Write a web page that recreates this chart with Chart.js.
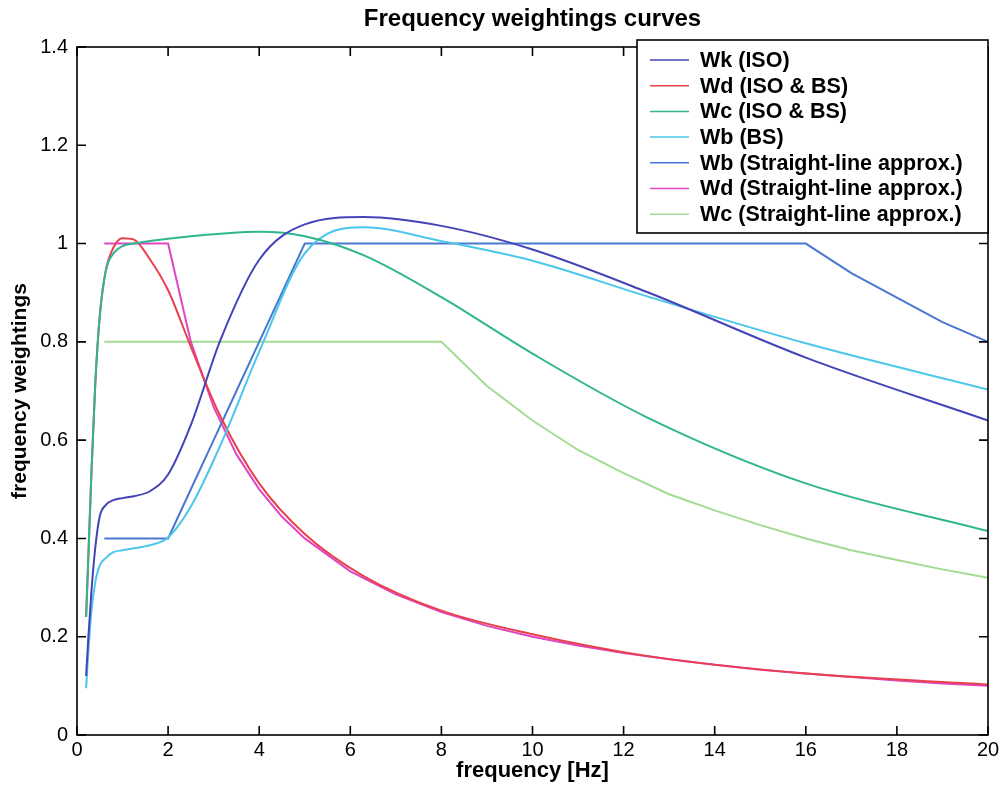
<!DOCTYPE html>
<html>
<head>
<meta charset="utf-8">
<script src="https://cdn.jsdelivr.net/npm/chart.js@4.4.1/dist/chart.umd.min.js"></script>
<style>
  html, body { margin: 0; padding: 0; background: #fff; }
  #wrap { width: 1008px; height: 788px; }
</style>
</head>
<body>
<div id="wrap"><canvas id="weightings"></canvas></div>
<script>
// 1/3-octave frequencies used for the measured curves
var isoFreqs = [0.2, 0.25, 0.315, 0.4, 0.5, 0.63, 0.8, 1, 1.25, 1.6, 2, 2.5, 3.15, 4, 5, 6.3, 8, 10, 12.5, 16, 20];
var wkIso = [0.12, 0.2, 0.29, 0.38, 0.445, 0.468, 0.478, 0.482, 0.486, 0.496, 0.53, 0.631, 0.804, 0.967, 1.039, 1.054, 1.036, 0.988, 0.902, 0.768, 0.64];
var wdIso = [0.24, 0.365, 0.53, 0.713, 0.853, 0.944, 0.992, 1.011, 1.008, 0.968, 0.905, 0.79, 0.648, 0.512, 0.409, 0.323, 0.253, 0.205, 0.161, 0.125, 0.103];
var wcIso = [0.24, 0.365, 0.53, 0.713, 0.853, 0.944, 0.98, 0.995, 1.0, 1.005, 1.01, 1.015, 1.02, 1.024, 1.015, 0.976, 0.891, 0.776, 0.647, 0.512, 0.415];
var wbBs = [0.095, 0.17, 0.25, 0.31, 0.345, 0.36, 0.372, 0.376, 0.38, 0.386, 0.402, 0.465, 0.59, 0.78, 0.98, 1.033, 1.005, 0.965, 0.893, 0.797, 0.703];

// straight-line approximations
var approxFreqs = [0.6, 1, 2, 2.5, 3, 3.5, 4, 4.5, 5, 6, 7, 8, 9, 10, 11, 12, 13, 14, 15, 16, 17, 18, 19, 20];
var wbLine = [0.4, 0.4, 0.4, 0.5, 0.6, 0.7, 0.8, 0.9, 1.0, 1.0, 1.0, 1.0, 1.0, 1.0, 1.0, 1.0, 1.0, 1.0, 1.0, 1.0, 0.94, 0.89, 0.84, 0.8];
var wdLine = [1.0, 1.0, 1.0, 0.8, 0.667, 0.571, 0.5, 0.444, 0.4, 0.333, 0.286, 0.25, 0.222, 0.2, 0.182, 0.167, 0.154, 0.143, 0.133, 0.125, 0.118, 0.111, 0.105, 0.1];
var wcLine = [0.8, 0.8, 0.8, 0.8, 0.8, 0.8, 0.8, 0.8, 0.8, 0.8, 0.8, 0.8, 0.71, 0.64, 0.58, 0.533, 0.49, 0.457, 0.427, 0.4, 0.376, 0.356, 0.337, 0.32];

var xTicks = [0, 2, 4, 6, 8, 10, 12, 14, 16, 18, 20];
var yTicks = [0, 0.2, 0.4, 0.6, 0.8, 1, 1.2, 1.4];
var chartTitle = "Frequency weightings curves";

function pts(xs, ys) {
    return xs.map(function (x, i) { return { x: x, y: ys[i] }; });
}

function curve(label, xs, ys, color, smooth, order) {
    return {
        label: label,
        data: pts(xs, ys),
        borderColor: color,
        backgroundColor: color,
        borderWidth: 2,
        pointRadius: 0,
        fill: false,
        tension: 0,
        order: order,
        cubicInterpolationMode: smooth ? "monotone" : "default",
    };
}

var FONT = "'Liberation Sans', Arial, Helvetica, sans-serif";

// title over the plot, box, inward ticks on four sides, legend inside the plot
var matlabFrame = {
    id: "matlabFrame",
    afterDraw: function (chart) {
        var c = chart.ctx, a = chart.chartArea;
        var xs = chart.scales.x, ys = chart.scales.y;
        c.save();
        c.fillStyle = "#000";
        c.font = "bold 24px " + FONT;
        c.textAlign = "center";
        c.textBaseline = "middle";
        c.fillText(chartTitle, (a.left + a.right) / 2, 19);

        c.strokeStyle = "#000";
        c.lineWidth = 1.6;
        c.strokeRect(a.left, a.top, a.right - a.left, a.bottom - a.top);
        c.beginPath();
        xTicks.forEach(function (t) {
            var px = xs.getPixelForValue(t);
            c.moveTo(px, a.bottom); c.lineTo(px, a.bottom - 9);
            c.moveTo(px, a.top); c.lineTo(px, a.top + 9);
        });
        yTicks.forEach(function (t) {
            var py = ys.getPixelForValue(t);
            c.moveTo(a.left, py); c.lineTo(a.left + 9, py);
            c.moveTo(a.right, py); c.lineTo(a.right - 9, py);
        });
        c.stroke();

        // legend
        var bx = 637, by = 40, bw = a.right - 637, bh = 193;
        c.fillStyle = "#fff";
        c.fillRect(bx, by, bw, bh);
        c.lineWidth = 1.6;
        c.strokeRect(bx, by, bw, bh);
        c.font = "bold 21.5px " + FONT;
        c.textAlign = "left";
        chart.data.datasets.forEach(function (ds, i) {
            var yy = by + 20 + i * 25.7;
            c.strokeStyle = ds.borderColor;
            c.lineWidth = 1.5;
            c.beginPath();
            c.moveTo(650, yy); c.lineTo(689, yy);
            c.stroke();
            c.fillStyle = "#000";
            c.fillText(ds.label, 700, yy + 1);
        });
        c.restore();
    }
};

var ctx = document.getElementById("weightings");
new Chart(ctx, {
    type: "line",
    data: {
        datasets: [
            curve("Wk (ISO)", isoFreqs, wkIso, "#4444b8", true, 1),
            curve("Wd (ISO & BS)", isoFreqs, wdIso, "#e8404c", true, 4),
            curve("Wc (ISO & BS)", isoFreqs, wcIso, "#2fb68c", true, 2),
            curve("Wb (BS)", isoFreqs, wbBs, "#4cc6ea", true, 3),
            curve("Wb (Straight-line approx.)", approxFreqs, wbLine, "#4a78d0", false, 5),
            curve("Wd (Straight-line approx.)", approxFreqs, wdLine, "#e046c4", false, 6),
            curve("Wc (Straight-line approx.)", approxFreqs, wcLine, "#a2dc92", false, 7),
        ],
    },
    options: {
        responsive: true,
        maintainAspectRatio: false,
        animation: false,
        layout: { padding: { left: 0, right: 20, top: 47, bottom: 0 } },
        plugins: {
            legend: { display: false },
            tooltip: { enabled: false },
            title: { display: false },
        },
        scales: {
            x: {
                type: "linear",
                min: 0,
                max: 20,
                afterFit: function (s) { s.height = 53; },
                afterBuildTicks: function (s) { s.ticks = xTicks.map(function (v) { return { value: v }; }); },
                grid: { display: false, drawTicks: false, tickLength: 0 },
                border: { display: false },
                ticks: { color: "#000", padding: 3, maxRotation: 0, font: { family: FONT, size: 20 } },
                title: {
                    display: true,
                    text: "frequency [Hz]",
                    color: "#000",
                    padding: { top: 0, bottom: 4 },
                    font: { family: FONT, size: 22, weight: "bold" },
                },
            },
            y: {
                type: "linear",
                min: 0,
                max: 1.4,
                afterFit: function (s) { s.width = 77; },
                afterBuildTicks: function (s) { s.ticks = yTicks.map(function (v) { return { value: v }; }); },
                grid: { display: false, drawTicks: false, tickLength: 0 },
                border: { display: false },
                ticks: {
                    color: "#000",
                    padding: 9,
                    font: { family: FONT, size: 20 },
                    callback: function (v) { return String(+v.toFixed(1)); },
                },
                title: {
                    display: true,
                    text: "frequency weightings",
                    color: "#000",
                    padding: { top: 8, bottom: 0 },
                    font: { family: FONT, size: 21, weight: "bold" },
                },
            },
        },
    },
    plugins: [matlabFrame],
});
</script>
</body>
</html>
